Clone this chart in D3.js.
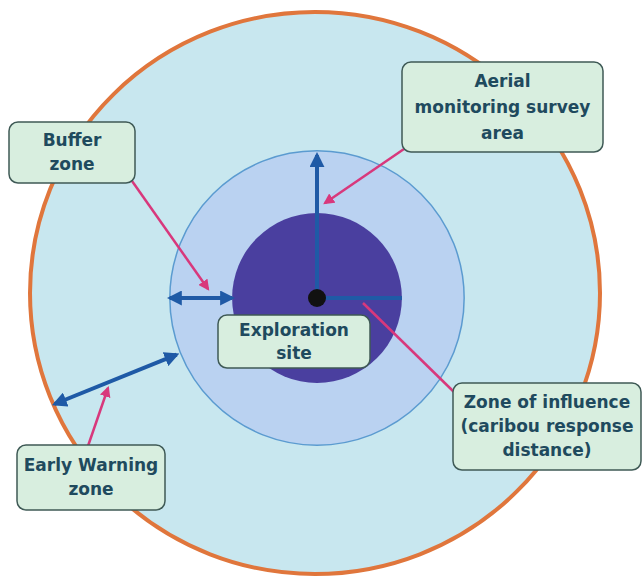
<!DOCTYPE html>
<html>
<head>
<meta charset="utf-8">
<script src="https://cdn.jsdelivr.net/npm/d3@7"></script>
<style>
  body { margin: 0; background: #fff; }
  .label-text { font-family: "DejaVu Sans", sans-serif; font-weight: bold; font-size: 17px; fill: #1f4a5e; }
</style>
</head>
<body>
<div id="chart"></div>
<script>
'use strict';

// zone reach, as a fraction of the early warning ring
const zoneNames = [ 'Zone of influence', 'Buffer zone', 'Early Warning zone' ];
const zoneReach = [ 0.30, 0.52, 1.00 ];

// callout labels
const labelLines = [
    [ 'Buffer', 'zone' ],
    [ 'Aerial', 'monitoring survey', 'area' ],
    [ 'Exploration', 'site' ],
    [ 'Zone of influence', '(caribou response', 'distance)' ],
    [ 'Early Warning', 'zone' ]
];

// distance arrows: angle in degrees, start and end reach
const arrowAngle = [ -90, 0, 180, 158 ];
const arrowFrom  = [ 0.0, 0.0, 0.30, 0.535 ];
const arrowTo    = [ 0.505, 0.30, 0.52, 1.0 ];
const arrowBoth  = [ false, false, true, true ];


const width = 644, height = 577;
const cx = 317, cy = 298;

const r = d3.scaleLinear().domain([ 0, 1 ]).range([ 0, 283 ]);

const svg = d3.select('#chart').append('svg')
    .attr('width', width)
    .attr('height', height);

const defs = svg.append('defs');

function marker( id, color, size ) {
    defs.append('marker')
        .attr('id', id)
        .attr('viewBox', '0 -5 10 10')
        .attr('refX', 8)
        .attr('refY', 0)
        .attr('markerUnits', 'userSpaceOnUse')
        .attr('markerWidth', size)
        .attr('markerHeight', size)
        .attr('orient', 'auto-start-reverse')
        .append('path')
        .attr('d', 'M0,-5L10,0L0,5Z')
        .attr('fill', color);
}
marker( 'blue-head', '#1f5aa6', 15 );
marker( 'pink-head', '#d8387c', 11 );

// rings, outermost first
svg.append('ellipse')
    .attr('cx', cx - 2).attr('cy', cy - 5)
    .attr('rx', r( zoneReach[2] ) + 2).attr('ry', r( zoneReach[2] ) - 2)
    .attr('fill', '#c8e7ef')
    .attr('stroke', '#e0763c')
    .attr('stroke-width', 4);

svg.append('circle')
    .attr('cx', cx).attr('cy', cy)
    .attr('r', r( zoneReach[1] ))
    .attr('fill', '#bad2f1')
    .attr('stroke', '#5b9bd0')
    .attr('stroke-width', 1.5);

svg.append('circle')
    .attr('cx', cx).attr('cy', cy)
    .attr('r', r( zoneReach[0] ))
    .attr('fill', '#4a3f9f');

// blue distance arrows
function polar( angle, reach ) {
    const a = angle * Math.PI / 180;
    return [ cx + r( reach ) * Math.cos( a ), cy + r( reach ) * Math.sin( a ) ];
}

svg.append('g')
    .selectAll('line')
    .data( arrowAngle.map( function( a, i ) {
        return { p0: polar( a, arrowFrom[i] ), p1: polar( a, arrowTo[i] ), both: arrowBoth[i], head: i !== 1 };
    }) )
    .enter()
        .append('line')
        .attr('x1', function( d ) { return d.p0[0]; })
        .attr('y1', function( d ) { return d.p0[1]; })
        .attr('x2', function( d ) { return d.p1[0]; })
        .attr('y2', function( d ) { return d.p1[1]; })
        .attr('stroke', '#1f5aa6')
        .attr('stroke-width', 4)
        .attr('marker-end', function( d ) { return d.head ? 'url(#blue-head)' : null; })
        .attr('marker-start', function( d ) { return d.both ? 'url(#blue-head)' : null; });

// exploration site
svg.append('circle')
    .attr('cx', cx).attr('cy', cy)
    .attr('r', 9)
    .attr('fill', '#111');

// callout layout
const boxes = [
    { x: 9,   y: 122, w: 126, h: 61 },
    { x: 402, y: 62,  w: 201, h: 90 },
    { x: 218, y: 315, w: 152, h: 53 },
    { x: 453, y: 383, w: 188, h: 87 },
    { x: 17,  y: 445, w: 148, h: 65 }
];
const lineGap = [ 24, 26, 23, 24, 24 ];

const pointers = [
    { from: [ 132, 181 ], to: [ 208, 289 ], head: true },
    { from: [ 404, 149 ], to: [ 325, 203 ], head: true },
    { from: [ 455, 393 ], to: [ 363, 303 ], head: false },
    { from: [ 88, 446 ],  to: [ 108, 388 ], head: true }
];

svg.append('g')
    .selectAll('line')
    .data( pointers )
    .enter()
        .append('line')
        .attr('x1', function( d ) { return d.from[0]; })
        .attr('y1', function( d ) { return d.from[1]; })
        .attr('x2', function( d ) { return d.to[0]; })
        .attr('y2', function( d ) { return d.to[1]; })
        .attr('stroke', '#d8387c')
        .attr('stroke-width', 2.5)
        .attr('marker-end', function( d ) { return d.head ? 'url(#pink-head)' : null; });

const callout = svg.append('g')
    .selectAll('.callout')
    .data( labelLines )
    .enter()
        .append('g')
        .attr('class', 'callout')
        .attr('transform', function( d, i ) { return 'translate(' + boxes[i].x + ',' + boxes[i].y + ')'; });

callout.append('rect')
    .attr('width', function( d, i ) { return boxes[i].w; })
    .attr('height', function( d, i ) { return boxes[i].h; })
    .attr('rx', 9)
    .attr('fill', '#d8eedf')
    .attr('stroke', '#3f5a56')
    .attr('stroke-width', 1.5);

callout.each( function( lines, i ) {
    const box = boxes[i];
    const top = box.h / 2 - ( lines.length - 1 ) * lineGap[i] / 2;
    d3.select( this ).selectAll('text')
        .data( lines )
        .enter()
            .append('text')
            .attr('class', 'label-text')
            .attr('x', box.w / 2)
            .attr('y', function( d, j ) { return top + j * lineGap[i]; })
            .attr('dy', '0.35em')
            .attr('text-anchor', 'middle')
            .text(function( d ) { return d; });
});
</script>
</body>
</html>
